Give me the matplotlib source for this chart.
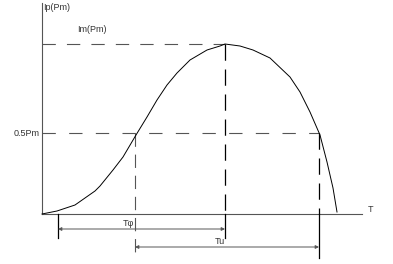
import matplotlib
matplotlib.use("Agg")
import matplotlib.pyplot as plt

# curve: time (px from origin) and power (px above axis)
t = [0, 15, 33, 53, 58, 71, 81, 94, 105, 115, 125, 135, 148, 165, 178, 183,
     198, 211, 228, 248, 258, 268, 278, 285, 291, 295]
p = [0, 3, 9, 23, 28, 44, 57, 79, 97, 114, 129, 141, 154, 164, 168, 170,
     168, 164, 156, 137, 122, 102, 79, 52, 26, 2]

p_max = 170      # Im(Pm) level
p_half = 81      # 0.5Pm level
t_start = 16     # left end of first arrow
t_rise = 93      # 0.5Pm on the rising side
t_peak = 183     # peak
t_fall = 277     # 0.5Pm on the falling side
t_axis = 320     # end of time axis
row1 = -15       # first arrow row
row2 = -33       # second arrow row

labels = {"y": "Ip(Pm)", "max": "Im(Pm)", "half": "0.5Pm",
          "x": "T", "a1": "T\u03c6", "a2": "Tu"}

plt.rcParams['font.family'] = ['Liberation Sans', 'DejaVu Sans']

fig = plt.figure(figsize=(3.93, 2.64), dpi=100)
ax = fig.add_axes([0, 0, 1, 1])
ax.set_xlim(-42, 351)
ax.set_ylim(-50, 214)
ax.axis('off')

gray = '#555555'
# axes
ax.plot([0, 0], [0, 211], color=gray, lw=0.8)
ax.plot([0, t_axis], [0, 0], color=gray, lw=0.8)

# reference levels
ax.plot([0, t_peak], [p_max, p_max], color=gray, lw=0.8, dashes=(12, 10))
ax.plot([0, t_fall], [p_half, p_half], color=gray, lw=0.8, dashes=(12, 12))

# verticals
ax.plot([t_rise, t_rise], [p_half, -44], color=gray, lw=0.8, dashes=(12, 7))
ax.plot([t_peak, t_peak], [p_max, 0], color='black', lw=0.9, dashes=(13, 7))
ax.plot([t_peak, t_peak], [0, -24], color='black', lw=0.9)
ax.plot([t_fall, t_fall], [p_half, 0], color='black', lw=0.9, dashes=(13, 7))
ax.plot([t_fall, t_fall], [0, -44], color='black', lw=0.9)
ax.plot([t_start, t_start], [0, -24], color='black', lw=0.9)

# curve
ax.plot(t, p, color='black', lw=0.7)

# arrows
ap = dict(arrowstyle='<|-|>', color=gray, lw=0.7, mutation_scale=5,
          shrinkA=0, shrinkB=0)
ax.annotate('', xy=(t_start, row1), xytext=(t_peak, row1), arrowprops=ap)
ax.annotate('', xy=(t_rise, row2), xytext=(t_fall, row2), arrowprops=ap)

fs = 6.5
ax.text(1, 207, labels["y"], fontsize=fs, ha='left', va='center', color='#333')
ax.text(35, 185, labels["max"], fontsize=fs, ha='left', va='center', color='#333')
ax.text(-2, p_half, labels["half"], fontsize=fs, ha='right', va='center', color='#333')
ax.text(326, 5, labels["x"], fontsize=fs, ha='left', va='center', color='#333')
ax.text(86, -9, labels["a1"], fontsize=fs, ha='center', va='center', color='#333')
ax.text(178, -28, labels["a2"], fontsize=fs, ha='center', va='center', color='#333')

fig.savefig('out.png', dpi=100)
